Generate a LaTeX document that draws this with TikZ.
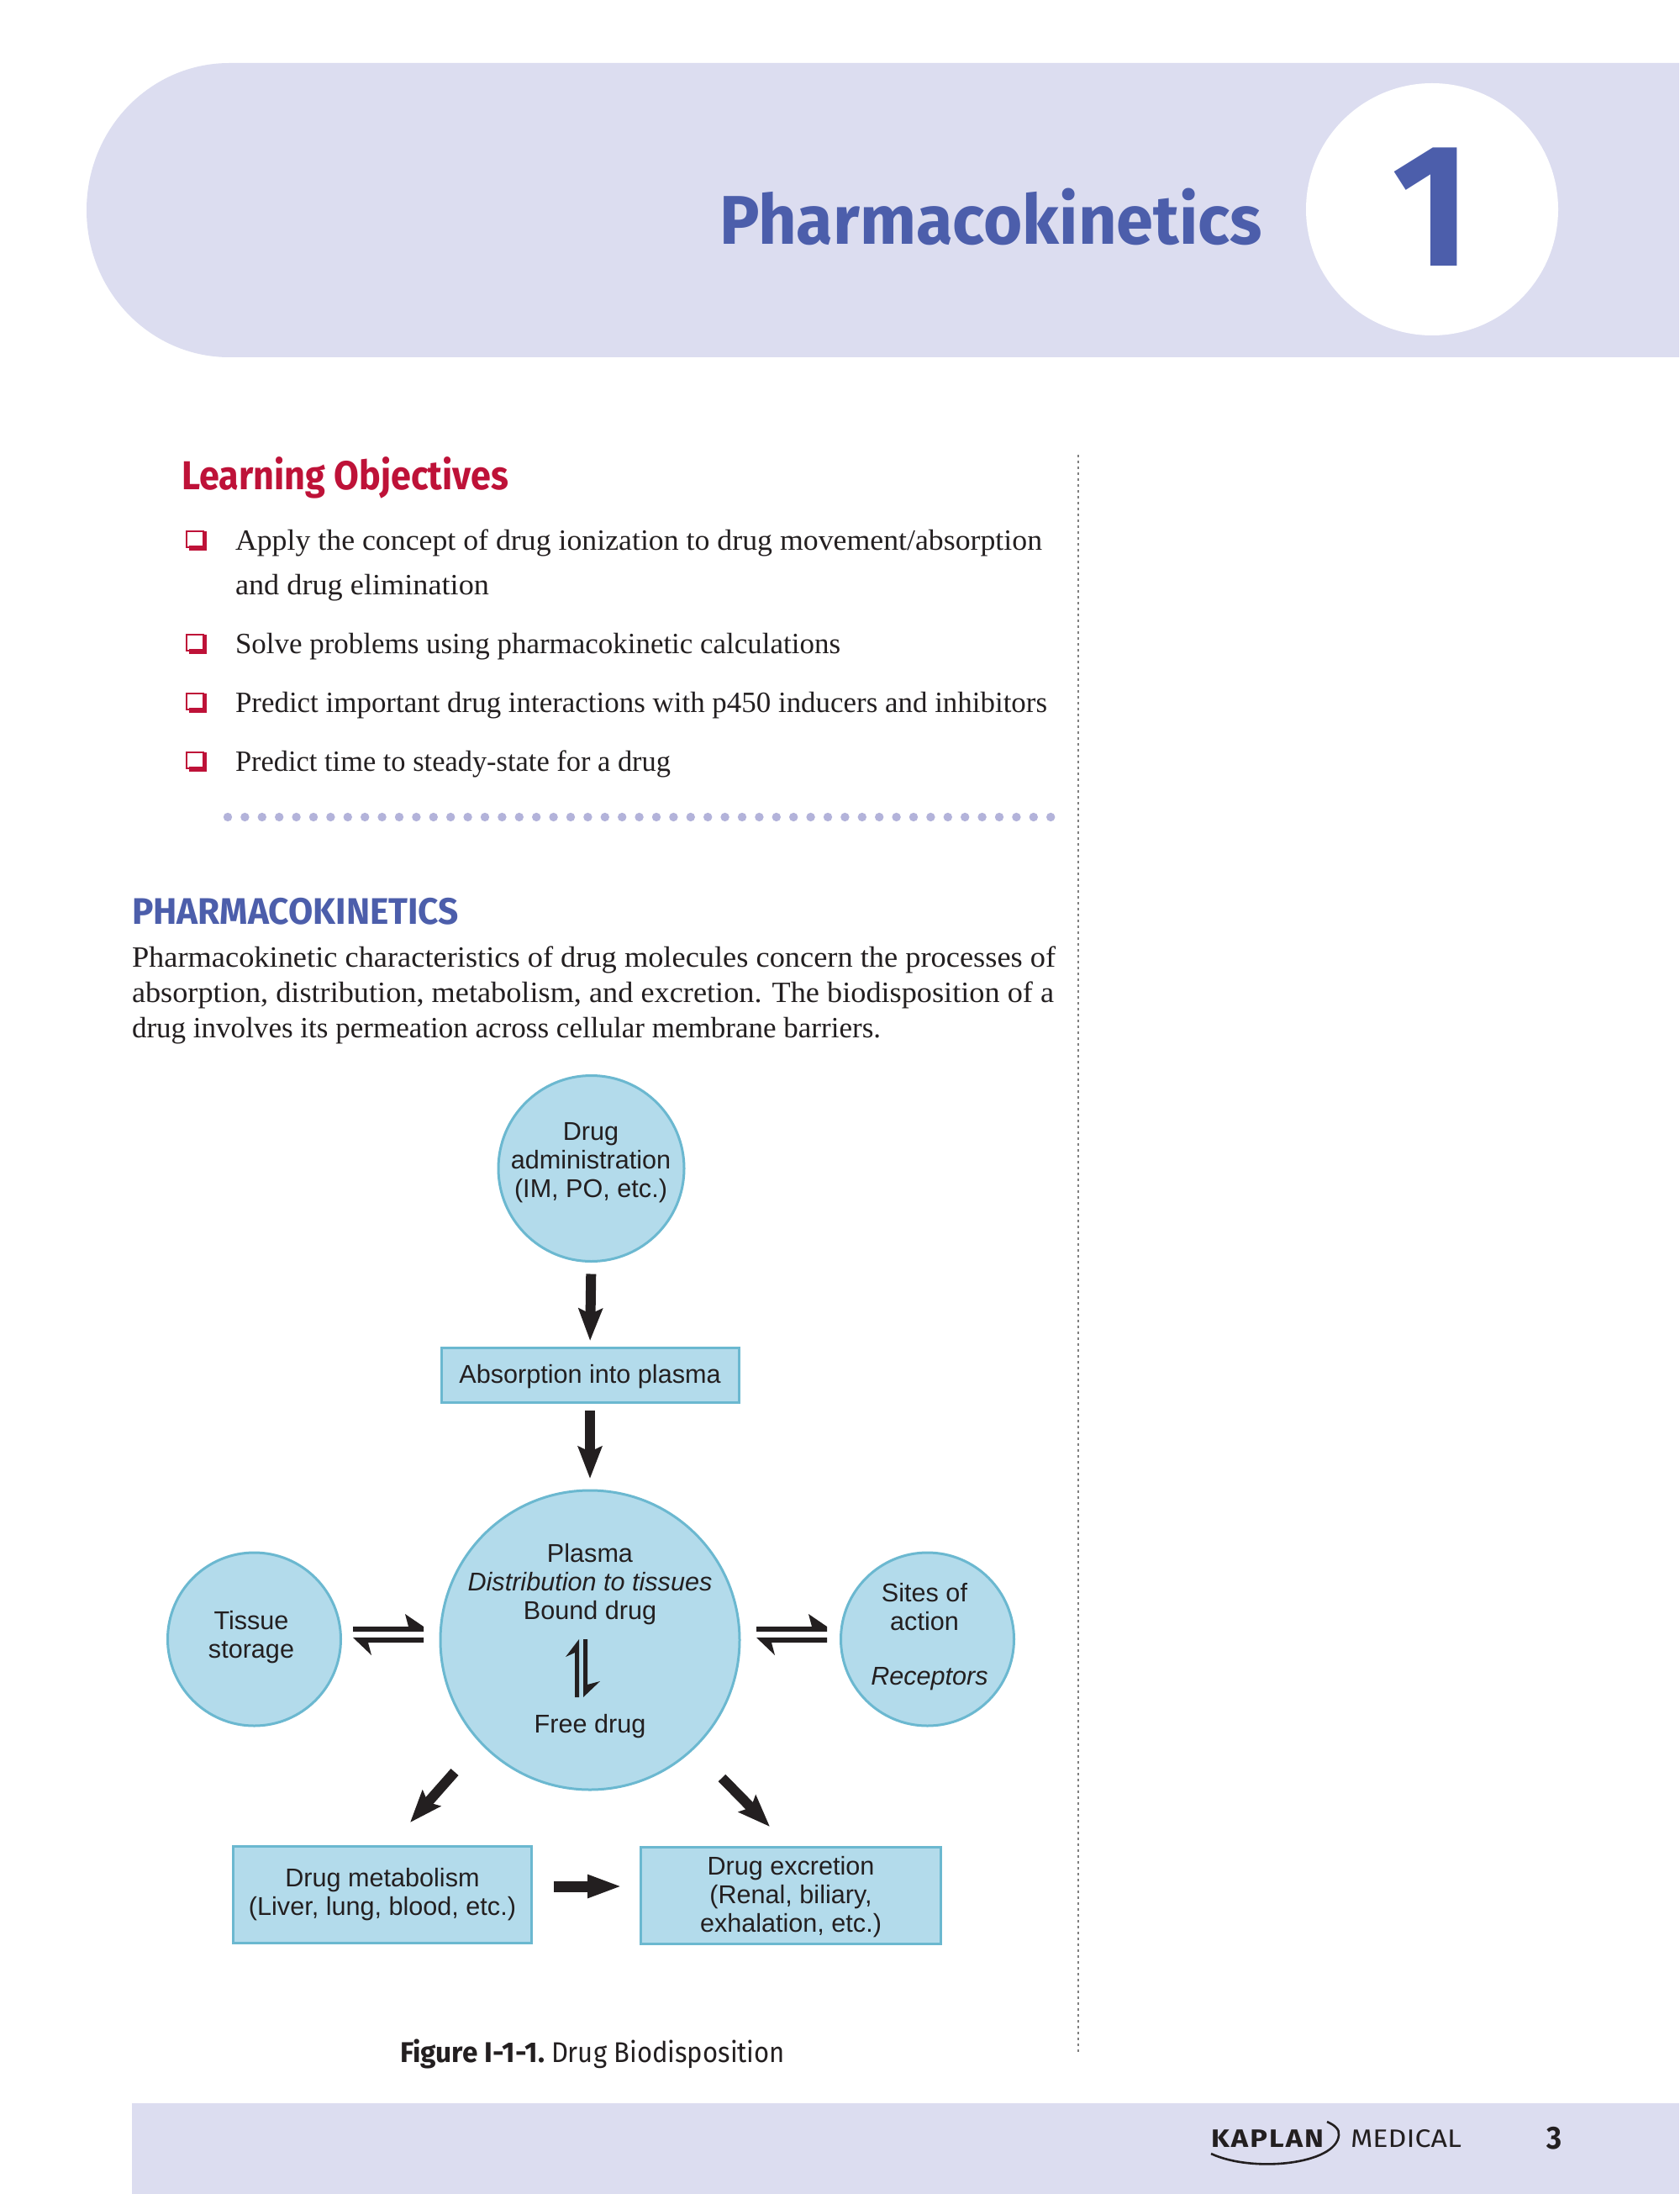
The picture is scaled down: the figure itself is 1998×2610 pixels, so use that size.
\documentclass[tikz,border=0pt]{standalone}
\usepackage{fontspec}
\usepackage{graphicx}
\usetikzlibrary{arrows.meta}
\setmainfont{Liberation Serif}
\newfontfamily\firaf{Fira Sans}
\newfontfamily\arialf{Liberation Sans}
\newcommand\fitw[2]{\resizebox{\dimexpr#1pt/2\relax}{\height}{#2}}
\definecolor{band}{HTML}{DCDDF0}
\definecolor{titleblue}{HTML}{4C5EAB}
\definecolor{objred}{HTML}{BE1238}
\definecolor{dotblue}{HTML}{B3B3DA}
\definecolor{boxfill}{HTML}{B3DBEB}
\definecolor{boxline}{HTML}{6BB8D0}
\definecolor{ink}{HTML}{231F20}
\tikzset{
  every node/.style={inner sep=0pt,outer sep=0pt,text=ink},
  bodyline/.style={anchor=base west,font=\fontsize{17.5}{21}\selectfont},
  round/.style={circle,draw=boxline,fill=boxfill,line width=1.5pt},
  boxed/.style={rectangle,draw=boxline,fill=boxfill,line width=1.5pt},
  dia/.style={align=center,font=\arialf\fontsize{15.3}{17}\selectfont},
  fatarrow/.style={draw=ink,line width=6pt,-{Stealth[length=19pt,width=14pt,inset=3pt]}}
}
\begin{document}
\begin{tikzpicture}[x=0.5pt,y=-0.5pt]
\useasboundingbox (0,0) rectangle (1998,2610);
\fill[white] (0,0) rectangle (1998,2610);
% header band
\fill[band] (1998,75) -- (273,75) .. controls (179,75) and (103,153) .. (103,250)
  .. controls (103,347) and (179,425) .. (273,425) -- (1998,425) -- cycle;
\fill[white] (1704,249) circle [radius=75pt];
\node[anchor=base west,text=titleblue,font=\firaf\bfseries\fontsize{41}{41}\selectfont] (title) at (856,291) {\fitw{646}{Pharmacokinetics}};
\node[anchor=base west,text=titleblue,font=\firaf\bfseries\fontsize{104}{104}\selectfont] (chap) at (1656,317) {\fitw{94}{1}};
% footer band
\fill[band] (157,2502) rectangle (1998,2610);
% objectives
\node[anchor=base west,text=objred,font=\firaf\bfseries\fontsize{24}{24}\selectfont] (lo) at (216,582) {\fitw{389}{Learning Objectives}};
\foreach \b in {654,777,847,917}{
  \draw[objred,line width=1pt] (222,\b-22) rectangle (242,\b-3);
  \fill[objred] (225,\b-5) rectangle (246,\b+1);
  \fill[objred] (241,\b-22) rectangle (246,\b+1);
}
\node[bodyline] (o1) at (280,654) {\fitw{960}{Apply the concept of drug ionization to drug movement/absorption}};
\node[bodyline] (o1b) at (280,707) {\fitw{302}{and drug elimination}};
\node[bodyline] (o2) at (280,777) {\fitw{720}{Solve problems using pharmacokinetic calculations}};
\node[bodyline] (o3) at (280,847) {\fitw{966}{Predict important drug interactions with p450 inducers and inhibitors}};
\node[bodyline] (o4) at (280,917) {\fitw{518}{Predict time to steady-state for a drug}};
\foreach \i in {0,...,48}{\fill[dotblue] ({271+20.4*\i},972) circle [radius=2.6pt];}
\draw[gray,line width=1pt,dash pattern=on 1.5pt off 2pt] (1283,541) -- (1283,2441);
% section
\node[anchor=base west,text=titleblue,font=\firaf\bfseries\fontsize{22}{22}\selectfont] (sec) at (157,1099) {\fitw{389}{PHARMACOKINETICS}};
\node[bodyline] (p1) at (157,1150) {\fitw{1099}{Pharmacokinetic characteristics of drug molecules concern the processes of}};
\node[bodyline] (p2) at (157,1192) {\fitw{1097}{absorption, distribution, metabolism, and excretion. The biodisposition of a}};
\node[bodyline] (p3) at (157,1234) {\fitw{891}{drug involves its permeation across cellular membrane barriers.}};
% diagram nodes
\node[round,minimum size=110.5pt] (admin) at (703.5,1390) {};
\node[dia] (admintxt) at (703,1383) {Drug\\administration\\(IM, PO, etc.)};
\node[boxed,minimum width=177pt,minimum height=32.5pt] (absorb) at (702,1635.5) {};
\node[dia] (absorbtxt) at (702,1637.5) {Absorption into plasma};
\node[round,minimum size=178pt] (plasma) at (702,1951) {};
\node[dia] (plasmatxt) at (702,1885) {Plasma\\\textit{Distribution to tissues}\\Bound drug};
\node[dia] (free) at (702,2054) {Free drug};
\node[round,minimum size=103pt] (tissue) at (302.5,1950) {};
\node[dia] (tissuetxt) at (299,1948) {Tissue\\storage};
\node[round,minimum size=103pt] (sites) at (1103.5,1950) {};
\node[dia] (sitestxt) at (1100,1912) {Sites of\\action};
\node[dia] (receptors) at (1106,1997) {\textit{Receptors}};
\node[boxed,minimum width=177.5pt,minimum height=57.5pt] (metab) at (455,2253.5) {};
\node[dia] (metabtxt) at (455,2253.5) {Drug metabolism\\(Liver, lung, blood, etc.)};
\node[boxed,minimum width=178.5pt,minimum height=57.5pt] (excr) at (940.5,2254.5) {};
\node[dia] (excrtxt) at (941,2257) {Drug excretion\\(Renal, biliary,\\exhalation, etc.)};
% arrows
\draw[fatarrow,shorten <=7.5pt,shorten >=4pt] (admin.south) -- (absorb.north);
\draw[fatarrow,shorten <=5pt,shorten >=7pt] (absorb.south) -- (plasma.north);
\coordinate (d1a) at (541,2108); \coordinate (d1b) at (488,2168);
\coordinate (d2a) at (859,2115); \coordinate (d2b) at (916,2173);
\coordinate (h1a) at (659,2244); \coordinate (h1b) at (741,2244);
\draw[fatarrow] (d1a) -- (d1b);
\draw[fatarrow] (d2a) -- (d2b);
\draw[fatarrow,line width=6.5pt,-{Stealth[length=21pt,width=12.5pt,inset=0pt]}] (h1a) -- (h1b);
% harpoons
\foreach \dx in {0,480}{
  \fill[ink,shift={(\dx,0)}] (420,1935) -- (486,1935) -- (482,1920) -- (504,1935) -- (504,1941) -- (420,1941) -- cycle;
  \fill[ink,shift={(\dx,0)}] (504,1948) -- (420,1948) -- (442,1969) -- (438,1954) -- (504,1954) -- cycle;
}
\fill[ink] (689,2019) -- (689,1950) -- (673,1971) -- (684,1966) -- (684,2019) -- cycle;
\fill[ink] (694,1950) -- (694,2019) -- (714,2000) -- (699,2004) -- (699,1950) -- cycle;
% caption
\node[anchor=base west,font=\firaf\bfseries\fontsize{17}{17}\selectfont] (capa) at (476,2453) {\fitw{172}{Figure I-1-1.}};
\node[anchor=base west,font=\firaf\fontsize{17}{17}\selectfont] (capb) at (656,2453) {\fitw{278}{Drug Biodisposition}};
% footer
\node[anchor=base west,font=\firaf\bfseries\fontsize{15}{15}\selectfont\addfontfeature{LetterSpace=6}] (kap) at (1441,2554) {\fitw{134}{KAPLAN}};
\node[anchor=base west,font=\firaf\fontsize{15}{15}\selectfont] (med) at (1607,2554) {\fitw{132}{MEDICAL}};
\node[anchor=base west,font=\firaf\bfseries\fontsize{19}{19}\selectfont] (pg) at (1840,2556) {\fitw{18}{3}};
\draw[ink,line width=1.3pt] (1441,2562) .. controls (1490,2585) and (1590,2575) .. (1593,2540) .. controls (1594,2533) and (1588,2528) .. (1579,2524);
\end{tikzpicture}
\end{document}
